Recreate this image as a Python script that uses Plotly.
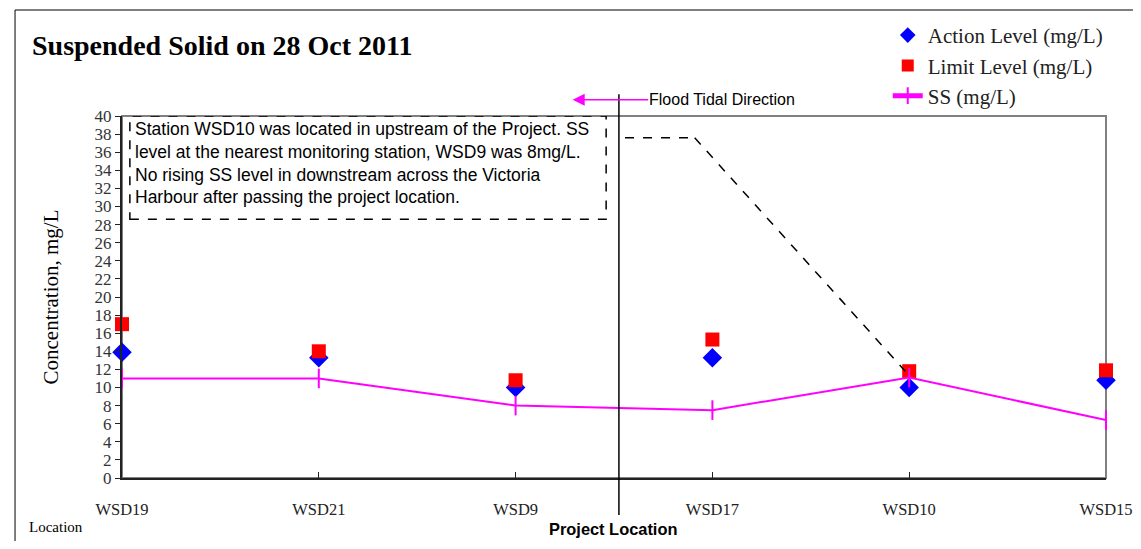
import plotly.graph_objects as go

stations = ["WSD19", "WSD21", "WSD9", "WSD17", "WSD10", "WSD15"]
action_level = [13.9, 13.3, 10.0, 13.3, 10.0, 10.8]
limit_level = [17.0, 14.0, 10.8, 15.3, 11.8, 11.9]
ss_values = [11.0, 11.0, 8.0, 7.5, 11.1, 6.4]
y_ticks = list(range(0, 41, 2))

x_idx = list(range(len(stations)))
serif = "Liberation Serif, Times New Roman, serif"
sans = "Liberation Sans, Arial, sans-serif"

fig = go.Figure()
fig.add_trace(go.Scatter(
    x=x_idx, y=action_level, mode="markers", name="Action Level (mg/L)",
    marker=dict(symbol="diamond", size=15, color="#0000ff"), cliponaxis=False))
fig.add_trace(go.Scatter(
    x=x_idx, y=limit_level, mode="markers", name="Limit Level (mg/L)",
    marker=dict(symbol="square", size=14, color="#ff0000"), cliponaxis=False))
fig.add_trace(go.Scatter(
    x=x_idx, y=ss_values, mode="lines+markers", name="SS (mg/L)",
    line=dict(color="#ff00ff", width=2),
    marker=dict(symbol="line-ns", size=14, line=dict(color="#ff00ff", width=2)),
    cliponaxis=False))

shapes = [
    # outer chart frame
    dict(type="rect", xref="paper", yref="paper", x0=-0.1087, x1=1.2, y0=-0.3, y1=1.2928,
         line=dict(color="black", width=1)),
    # gray plot frame (top/right)
    dict(type="rect", xref="paper", yref="paper", x0=0, x1=1, y0=0, y1=1,
         line=dict(color="#808080", width=2), layer="below"),
    # text box dashed
    dict(type="rect", xref="x", yref="y", x0=0.04, x1=2.46, y0=28.6, y1=40,
         line=dict(color="black", width=1.5, dash="dash")),
    # project location line
    dict(type="line", xref="x", yref="paper", x0=2.525, x1=2.525, y0=-0.102, y1=1.06,
         line=dict(color="black", width=1.5)),
    # dashed flood line
    dict(type="line", xref="x", yref="y", x0=2.556, x1=2.91, y0=37.6, y1=37.6,
         line=dict(color="black", width=1.5, dash="dash")),
    dict(type="line", xref="x", yref="y", x0=2.91, x1=3.98, y0=37.6, y1=11.8,
         line=dict(color="black", width=1.5, dash="dash")),
]

annotations = [
    dict(text="<b>Suspended Solid on 28 Oct 2011</b>", xref="paper", yref="paper",
         x=-0.093, y=1.196, xanchor="left", yanchor="middle", showarrow=False,
         font=dict(family=serif, size=28, color="black")),
    dict(text="Station WSD10 was located in upstream of the Project. SS<br>"
              "level at the nearest monitoring station, WSD9 was 8mg/L.<br>"
              "No rising SS level in downstream across the Victoria<br>"
              "Harbour after passing the project location.",
         xref="x", yref="y", x=0.055, y=39.9, xanchor="left", yanchor="top",
         align="left", showarrow=False,
         font=dict(family=sans, size=17.5, color="black")),
    dict(text="Flood Tidal Direction", xref="x", yref="paper", x=2.67, y=1.045,
         xanchor="left", yanchor="middle", showarrow=False,
         font=dict(family=sans, size=16, color="black")),
    dict(text="", xref="x", yref="paper", x=2.29, y=1.045, ax=77, ay=0,
         axref="pixel", ayref="pixel", showarrow=True, arrowhead=2, arrowsize=1.6,
         arrowwidth=1.5, arrowcolor="#ff00ff"),
    dict(text="<b>Project Location</b>", xref="x", yref="paper", x=2.495, y=-0.142,
         xanchor="center", yanchor="middle", showarrow=False,
         font=dict(family=sans, size=16.4, color="black")),
    dict(text="Location", xref="paper", yref="paper", x=-0.097, y=-0.135,
         xanchor="left", yanchor="middle", showarrow=False,
         font=dict(family=serif, size=15, color="black")),
]

fig.update_layout(
    width=1125, height=533,
    margin=dict(l=114, r=27, t=108, b=63, autoexpand=False),
    paper_bgcolor="white", plot_bgcolor="white",
    showlegend=True,
    legend=dict(xref="container", yref="container", x=0.782, y=0.987,
                xanchor="left", yanchor="top",
                font=dict(family=serif, size=21, color="#222"),
                bgcolor="rgba(0,0,0,0)", tracegroupgap=0, itemsizing="constant"),
    shapes=shapes, annotations=annotations,
    xaxis=dict(range=[0, 5], tickmode="array", tickvals=x_idx, ticktext=stations,
               showgrid=False, zeroline=False, showline=True, linecolor="#222",
               linewidth=2, ticks="inside", ticklen=6, tickcolor="#222",
               ticklabelstandoff=15, automargin=False, ticklabeloverflow="allow",
               tickfont=dict(family=serif, size=16.5, color="#222")),
    yaxis=dict(range=[0, 40], tickmode="array", tickvals=y_ticks,
               showgrid=False, zeroline=False, showline=True, linecolor="#222",
               linewidth=2, ticks="outside", ticklen=5, tickcolor="#222",
               automargin=False,
               tickfont=dict(family=serif, size=17, color="#333"),
               title=dict(text="Concentration, mg/L", standoff=30,
                          font=dict(family=serif, size=21, color="black"))),
)

fig.write_html("out.html")
